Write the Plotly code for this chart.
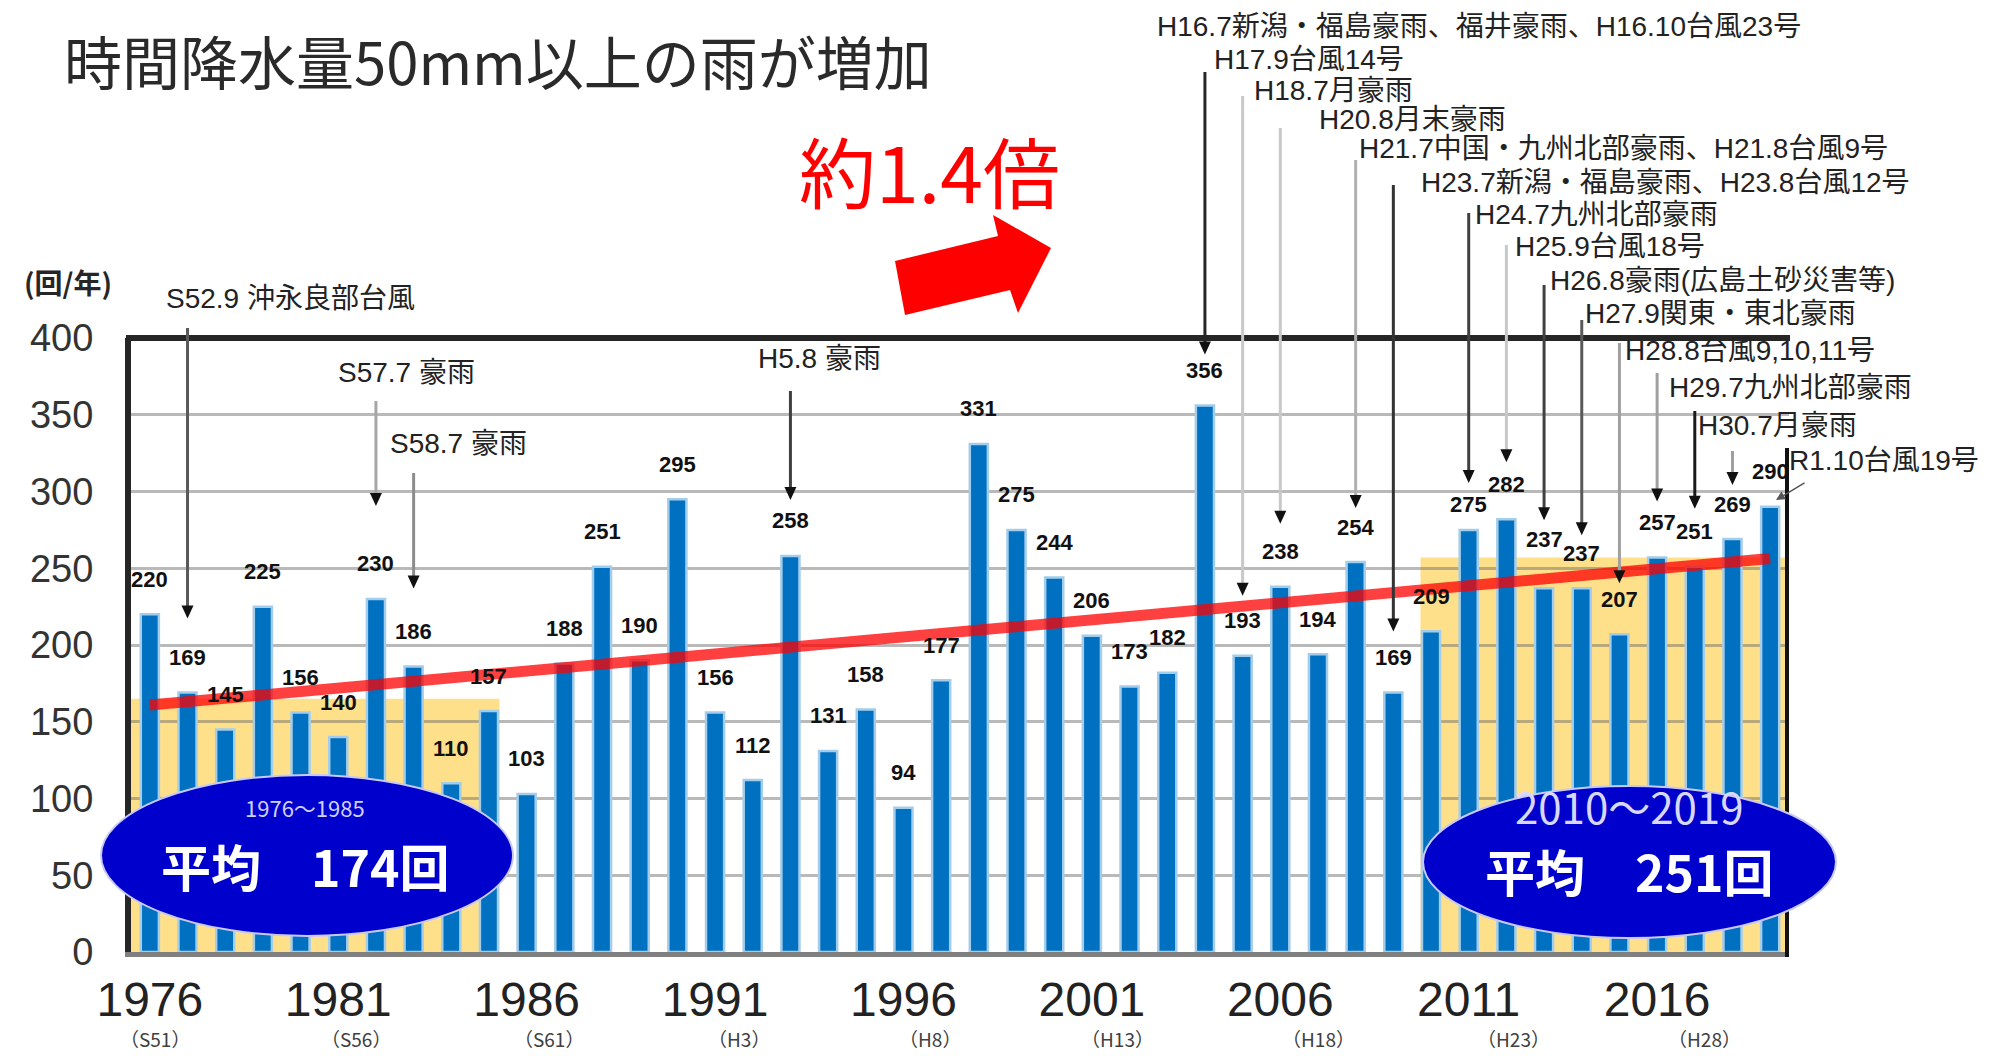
import numpy as np
import plotly.graph_objects as go

# ---------------- data ----------------
years = list(range(1976, 2020))
counts = [220, 169, 145, 225, 156, 140, 230, 186, 110, 157,
          103, 188, 251, 190, 295, 156, 112, 258, 131, 158,
          94, 177, 331, 275, 244, 206, 173, 182, 356, 193,
          238, 194, 254, 169, 209, 275, 282, 237, 237, 207,
          257, 251, 269, 290]

tick_years = [1976, 1981, 1986, 1991, 1996, 2001, 2006, 2011, 2016]
era_labels = ["（S51）", "（S56）", "（S61）", "（H3）", "（H8）",
              "（H13）", "（H18）", "（H23）", "（H28）"]
y_ticks = [0, 50, 100, 150, 200, 250, 300, 350, 400]

period_early = (1976, 1985)
period_late = (2010, 2019)

event_years = [1977, 1982, 1983, 1993, 2004, 2005, 2006, 2008, 2009,
               2011, 2012, 2013, 2014, 2015, 2016, 2017, 2018, 2019]
event_texts = ["S52.9 沖永良部台風", "S57.7 豪雨", "S58.7 豪雨", "H5.8 豪雨",
               "H16.7新潟・福島豪雨、福井豪雨、H16.10台風23号",
               "H17.9台風14号", "H18.7月豪雨", "H20.8月末豪雨",
               "H21.7中国・九州北部豪雨、H21.8台風9号",
               "H23.7新潟・福島豪雨、H23.8台風12号",
               "H24.7九州北部豪雨", "H25.9台風18号", "H26.8豪雨(広島土砂災害等)",
               "H27.9関東・東北豪雨", "H28.8台風9,10,11号", "H29.7九州北部豪雨",
               "H30.7月豪雨", "R1.10台風19号"]

title_text = "時間降水量50mm以上の雨が増加"
ratio_text = "約1.4倍"
unit_text = "(回/年)"

# ---------------- layout constants ----------------
W_FIG, H_FIG = 1995, 1056
M_L, M_R, M_T, M_B = 123, 214, 330, 112
PW = W_FIG - M_L - M_R
PH = H_FIG - M_T - M_B
X_RANGE = [1975.5, 2019.5]
Y_RANGE = [0, 400]

CJK = "Noto Sans CJK JP"
MIX = "Liberation Sans, Noto Sans CJK JP"
NUM = "Liberation Sans, Arial, sans-serif"
CJK_DY = -11   # CJK font boxes render a bit low; compensate
CJK_DX = -10   # and a bit to the right
MIX_DY = -8
MIX_DX = -10


def px_x(px):
    return (px - M_L) / PW


def px_y(py):
    return (M_T + PH - py) / PH


def year_px(yr):
    return M_L + (yr - X_RANGE[0]) / (X_RANGE[1] - X_RANGE[0]) * PW


def val_py(v):
    return M_T + PH - (v - Y_RANGE[0]) / (Y_RANGE[1] - Y_RANGE[0]) * PH


# event label placement (left px, centre px), line top px, tip gap above bar top, line colour
ev_label_pos = [(167, 298), (339, 372), (391, 443), (759, 358), (1158, 26),
                (1215, 59), (1255, 90), (1320, 119), (1360, 148), (1422, 182),
                (1476, 215), (1516, 247), (1551, 280), (1586, 313), (1626, 350),
                (1670, 387), (1699, 425), (1790, 460)]
ev_line_top = [320, 393, 465, 383, 64, 88, 120, 152, 177, 205, 237, 277,
               312, 335, 365, 403, 443, None]
ev_tip_gap = [74, 93, 78, 56, 51, 60, 63, 54, 61, 47, 57, 68, 53, 51, 56, 58, 54, None]
ev_line_col = ["#595959", "#a6a6a6", "#8c8c8c", "#404040", "#262626",
               "#c8c8c8", "#c8c8c8", "#b0b0b0", "#333333", "#404040",
               "#c8c8c8", "#404040", "#595959", "#a0a0a0", "#a0a0a0",
               "#1a1a1a", "#a0a0a0", None]

label_yshift_default = 35
label_yshift_special = {2011: 25, 2013: 49}
era_xshift = [5, 18, 22, 24, 27, 26, 38, 45, 47]

# ---------------- figure ----------------
fig = go.Figure()

fig.add_trace(go.Bar(
    x=years, y=counts, width=0.48,
    marker=dict(color="#0070C0", line=dict(color="#A3CDEB", width=2.5)),
    showlegend=False, hoverinfo="x+y"))

coef = np.polyfit(years, counts, 1)
trend_x = [years[0], years[-1]]
trend_y = list(np.polyval(coef, trend_x))
fig.add_trace(go.Scatter(
    x=trend_x, y=trend_y, mode="lines",
    line=dict(color="rgba(255,0,0,0.75)", width=11),
    showlegend=False, hoverinfo="skip"))

shapes = []
# highlighted periods
shapes.append(dict(type="rect", xref="x", yref="y", layer="below",
                   x0=X_RANGE[0], x1=period_early[1] + 0.28, y0=0, y1=165,
                   fillcolor="#FFE08A", line=dict(width=0)))
shapes.append(dict(type="rect", xref="x", yref="y", layer="below",
                   x0=period_late[0] - 0.28, x1=X_RANGE[1], y0=0, y1=257,
                   fillcolor="#FFE08A", line=dict(width=0)))
# frame
shapes.append(dict(type="line", xref="paper", yref="paper",
                   x0=px_x(118), x1=px_x(1782), y0=1, y1=1,
                   line=dict(color="#262626", width=6)))
shapes.append(dict(type="line", xref="paper", yref="paper",
                   x0=px_x(1779), x1=px_x(1779), y0=px_y(949), y1=px_y(440),
                   line=dict(color="#111111", width=4)))

# event lines and arrow heads
for i, yr in enumerate(event_years):
    if ev_line_top[i] is None:
        continue
    v = counts[years.index(yr)]
    xpx = year_px(yr)
    tip = val_py(v) - ev_tip_gap[i]
    shapes.append(dict(type="line", xref="paper", yref="paper",
                       x0=px_x(xpx), x1=px_x(xpx),
                       y0=px_y(ev_line_top[i]), y1=px_y(tip - 8),
                       line=dict(color=ev_line_col[i], width=3)))
    path = "M {} {} L {} {} L {} {} Z".format(
        px_x(xpx - 6), px_y(tip - 13), px_x(xpx + 6), px_y(tip - 13),
        px_x(xpx), px_y(tip))
    shapes.append(dict(type="path", xref="paper", yref="paper", path=path,
                       fillcolor="#111111", line=dict(width=0)))

# red block arrow
arrow_pts = [(887, 253), (990, 228), (985, 207), (1043, 240),
             (1010, 305), (1002, 282), (897, 307)]
path = "M " + " L ".join("{} {}".format(px_x(a), px_y(b)) for a, b in arrow_pts) + " Z"
shapes.append(dict(type="path", xref="paper", yref="paper", path=path,
                   fillcolor="#FF0000", line=dict(width=0)))

# average ellipses
shapes.append(dict(type="circle", xref="paper", yref="paper",
                   x0=px_x(93), x1=px_x(505), y0=px_y(928), y1=px_y(767),
                   fillcolor="#0000CC", line=dict(color="#C8C8F5", width=2)))
shapes.append(dict(type="circle", xref="paper", yref="paper",
                   x0=px_x(1415), x1=px_x(1828), y0=px_y(930), y1=px_y(778),
                   fillcolor="#0000CC", line=dict(color="#C8C8F5", width=2)))

annotations = []
# value labels
for yr, v in zip(years, counts):
    annotations.append(dict(x=yr, y=v, xref="x", yref="y", text=str(v),
                            showarrow=False, xanchor="center", yanchor="middle",
                            yshift=label_yshift_special.get(yr, label_yshift_default),
                            font=dict(family=NUM, size=22, color="#111111", weight="bold")))

# event labels
for i, txt in enumerate(event_texts):
    lx, ly = ev_label_pos[i]
    annotations.append(dict(x=px_x(lx + MIX_DX), y=px_y(ly + MIX_DY), xref="paper", yref="paper",
                            text=txt, showarrow=False, xanchor="left", yanchor="middle",
                            borderpad=0,
                            font=dict(family=MIX, size=28, color="#222222")))

# R1.10 connector
annotations.append(dict(x=px_x(1768), y=px_y(492), xref="paper", yref="paper",
                        text="", showarrow=True, ax=30, ay=-18,
                        arrowhead=2, arrowsize=1.2, arrowwidth=1.5, arrowcolor="#555555"))

# era sub-labels
for yr, lab, dx in zip(tick_years, era_labels, era_xshift):
    annotations.append(dict(x=yr, y=px_y(1041 + CJK_DY), xref="x", yref="paper", text=lab,
                            showarrow=False, xshift=dx, xanchor="center", yanchor="middle",
                            font=dict(family=CJK, size=19, color="#404040")))

# title, ratio, unit
annotations.append(dict(x=px_x(54), y=px_y(63 + CJK_DY), xref="paper", yref="paper",
                        text=title_text, showarrow=False, xanchor="left", yanchor="middle",
                        font=dict(family=CJK, size=58, color="#2a2a2a")))
annotations.append(dict(x=px_x(921), y=px_y(176 + CJK_DY - 4), xref="paper", yref="paper",
                        text=ratio_text, showarrow=False, xanchor="center", yanchor="middle",
                        font=dict(family=CJK, size=77, color="#FF0000")))
annotations.append(dict(x=px_x(14), y=px_y(285 + CJK_DY), xref="paper", yref="paper",
                        text=unit_text, showarrow=False, xanchor="left", yanchor="middle",
                        font=dict(family=CJK, size=28, color="#262626", weight="bold")))

# ellipse texts
early_avg = round(float(np.mean(counts[:period_early[1] - period_early[0] + 1])))
late_avg = round(float(np.mean(counts[-(period_late[1] - period_late[0] + 1):])))
annotations.append(dict(x=px_x(297), y=px_y(810 + CJK_DY), xref="paper", yref="paper",
                        text="{}～{}".format(*period_early), showarrow=False,
                        xanchor="center", yanchor="middle",
                        font=dict(family=CJK, size=22, color="#D0D0FF")))
annotations.append(dict(x=px_x(297), y=px_y(868 + CJK_DY), xref="paper", yref="paper",
                        text="平均　{}回".format(early_avg), showarrow=False,
                        xanchor="center", yanchor="middle",
                        font=dict(family=CJK, size=50, color="#FFFFFF", weight="bold")))
annotations.append(dict(x=px_x(1621), y=px_y(808 + CJK_DY), xref="paper", yref="paper",
                        text="{}～{}".format(*period_late), showarrow=False,
                        xanchor="center", yanchor="middle",
                        font=dict(family=CJK, size=42, color="#D8D8FF")))
annotations.append(dict(x=px_x(1621), y=px_y(873 + CJK_DY), xref="paper", yref="paper",
                        text="平均　{}回".format(late_avg), showarrow=False,
                        xanchor="center", yanchor="middle",
                        font=dict(family=CJK, size=50, color="#FFFFFF", weight="bold")))

fig.update_layout(
    width=W_FIG, height=H_FIG,
    margin=dict(l=M_L, r=M_R, t=M_T, b=M_B, pad=0),
    paper_bgcolor="white", plot_bgcolor="white",
    showlegend=False, bargap=0.5,
    shapes=shapes, annotations=annotations,
    xaxis=dict(range=X_RANGE, showgrid=False, zeroline=False,
               showline=True, linecolor="#808080", linewidth=5,
               tickvals=tick_years, ticktext=[str(y) for y in tick_years],
               ticks="", ticklabelstandoff=1,
               tickfont=dict(family=NUM, size=48, color="#222222")),
    yaxis=dict(range=Y_RANGE, tickvals=y_ticks, showgrid=True,
               gridcolor="rgba(100,100,100,0.45)", gridwidth=3,
               zeroline=False, showline=True, linecolor="#262626", linewidth=6,
               ticks="", ticklabelstandoff=24,
               tickfont=dict(family=NUM, size=38, color="#333333")),
)

fig.write_html("out.html")
